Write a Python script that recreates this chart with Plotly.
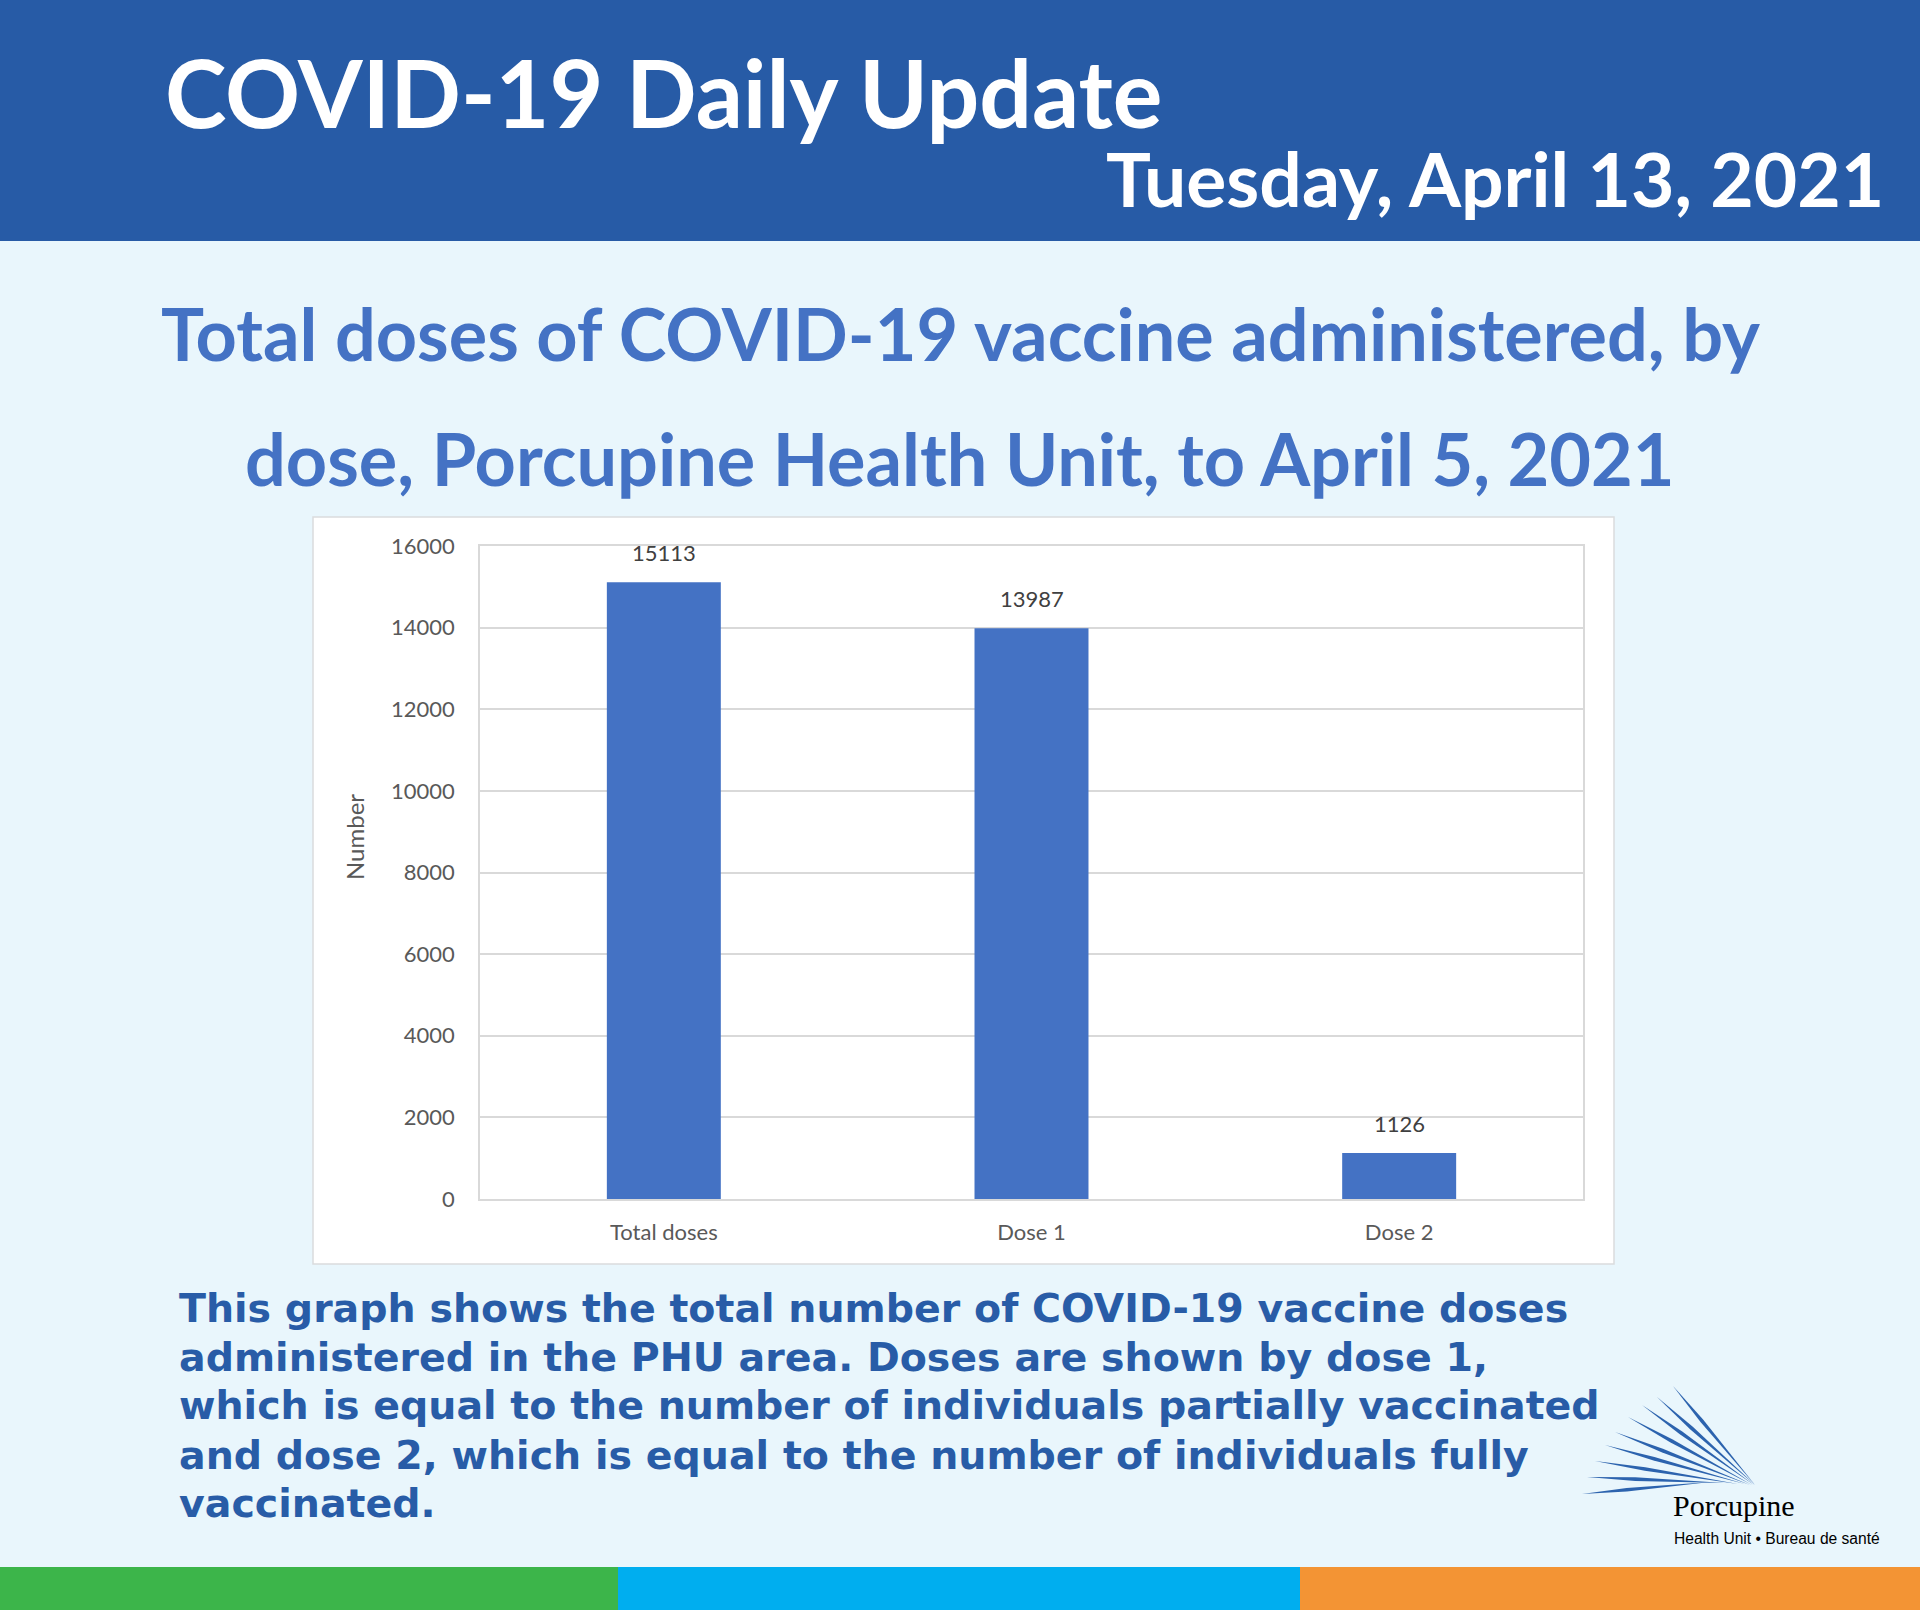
import plotly.graph_objects as go

# ---- data ----
categories = ["Total doses", "Dose 1", "Dose 2"]
doses = [15113, 13987, 1126]
y_ticks = [0, 2000, 4000, 6000, 8000, 10000, 12000, 14000, 16000]

header_title = "COVID-19 Daily Update"
header_date = "Tuesday, April 13, 2021"
subtitle_lines = ["Total doses of COVID-19 vaccine administered, by",
                  "dose, Porcupine Health Unit, to April 5, 2021"]
body_lines = ["This graph shows the total number of COVID-19 vaccine doses",
              "administered in the PHU area. Doses are shown by dose 1,",
              "which is equal to the number of individuals partially vaccinated",
              "and dose 2, which is equal to the number of individuals fully",
              "vaccinated."]

W, H = 1920, 1610
def px(x): return x / W
def py(y): return 1 - y / H

HEADER_BLUE = "#275BA6"
BG = "#E9F6FC"
BAR = "#4472C4"
SUB = "#4472C4"
BODY = "#285CA7"
GRID = "#D9D9D9"
HEAD_FONT = "Lato"
BODY_FONT = "DejaVu Sans"

fig = go.Figure()
fig.add_trace(go.Bar(x=categories, y=doses, marker=dict(color=BAR, line=dict(width=0)),
                     hoverinfo="skip"))

shapes = []
# header band
shapes.append(dict(type="rect", xref="paper", yref="paper", x0=0, x1=1, y0=py(241), y1=1,
                   fillcolor=HEADER_BLUE, line=dict(width=0), layer="below"))
# chart white box
shapes.append(dict(type="rect", xref="paper", yref="paper", x0=px(313), x1=px(1614),
                   y0=py(1264), y1=py(517), fillcolor="white",
                   line=dict(color="#DADCDD", width=1.5), layer="below"))
# bottom colour bars
for x0, x1, c in [(0, 618, "#3CB54A"), (618, 1300, "#00AEEF"), (1300, 1920, "#F39434")]:
    shapes.append(dict(type="rect", xref="paper", yref="paper", x0=px(x0), x1=px(x1),
                       y0=0, y1=py(1567), fillcolor=c, line=dict(width=0), layer="below"))

# logo fan (decorative)
fan_starts = [(1673, 1386), (1657, 1397), (1642, 1405), (1628, 1417), (1615, 1432),
              (1605, 1445), (1595, 1461), (1587, 1477), (1582, 1494)]
fan_ends = [(1755, 1485), (1755, 1485), (1754, 1485), (1752, 1485), (1750, 1485),
            (1745, 1484), (1738, 1484), (1725, 1483), (1710, 1482)]
for (x1, y1), (x2, y2) in zip(fan_starts, fan_ends):
    dx, dy = x2 - x1, y2 - y1
    L = (dx * dx + dy * dy) ** 0.5
    nx, ny = -dy / L * 1.8, dx / L * 1.8
    mx, my = x1 + dx * 0.35, y1 + dy * 0.35
    path = (f"M {px(x1)} {py(y1)} L {px(mx + nx)} {py(my + ny)} L {px(x2)} {py(y2)} "
            f"L {px(mx - nx)} {py(my - ny)} Z")
    shapes.append(dict(type="path", xref="paper", yref="paper", path=path,
                       fillcolor="#2C63AE", line=dict(width=0)))

annotations = []
annotations.append(dict(text=header_title, xref="paper", yref="paper", x=px(163), y=py(92),
                        xanchor="left", yanchor="middle", showarrow=False,
                        font=dict(family=HEAD_FONT, size=93, color="white", weight="bold")))
annotations.append(dict(text=header_date, xref="paper", yref="paper", x=px(1886), y=py(178),
                        xanchor="right", yanchor="middle", showarrow=False,
                        font=dict(family=HEAD_FONT, size=75, color="white", weight="bold")))
for txt, yc in zip(subtitle_lines, [333, 458]):
    annotations.append(dict(text=txt, xref="paper", yref="paper", x=0.5, y=py(yc),
                            xanchor="center", yanchor="middle", showarrow=False,
                            font=dict(family=HEAD_FONT, size=72, color=SUB, weight="bold")))
for txt, yc in zip(body_lines, [1308, 1357, 1405, 1455, 1503]):
    annotations.append(dict(text=txt, xref="paper", yref="paper", x=px(177), y=py(yc),
                            xanchor="left", yanchor="middle", showarrow=False,
                            font=dict(family=BODY_FONT, size=39.5, color=BODY, weight="bold")))
# y axis title
annotations.append(dict(text="Number", xref="paper", yref="paper", x=px(355), y=py(837),
                        xanchor="center", yanchor="middle", textangle=-90, showarrow=False,
                        font=dict(family="Lato", size=24, color="#595959")))
# data labels
for c, v in zip(categories, doses):
    annotations.append(dict(text=str(v), x=c, y=v, xref="x", yref="y",
                            xanchor="center", yanchor="bottom", yshift=14, showarrow=False,
                            font=dict(family="Lato", size=22, color="#404040")))
# logo text
annotations.append(dict(text="Porcupine", xref="paper", yref="paper", x=px(1671), y=py(1505),
                        xanchor="left", yanchor="middle", showarrow=False,
                        font=dict(family="Liberation Serif", size=30, color="black")))
annotations.append(dict(text="Health Unit \u2022 Bureau de santé", xref="paper", yref="paper",
                        x=px(1672), y=py(1538), xanchor="left", yanchor="middle", showarrow=False,
                        font=dict(family="Liberation Sans", size=15.6, color="black")))

fig.update_layout(
    width=W, height=H, margin=dict(l=0, r=0, t=0, b=0, pad=0, autoexpand=False),
    paper_bgcolor=BG, plot_bgcolor="white", showlegend=False,
    bargap=0.69,
    shapes=shapes, annotations=annotations,
    xaxis=dict(domain=[px(480), px(1583)], showline=True, mirror=True, linecolor=GRID,
               linewidth=1.5, ticks="", showgrid=False, ticklabelstandoff=13, automargin=False,
               tickfont=dict(family="Lato", size=22, color="#595959"), fixedrange=True),
    yaxis=dict(domain=[py(1199), py(546)], range=[0, 16000], tickvals=y_ticks,
               tickformat="d", showline=True, mirror=True, linecolor=GRID, linewidth=1.5,
               gridcolor=GRID, gridwidth=1.5, zeroline=False, ticks="", automargin=False,
               ticklabelstandoff=19,
               tickfont=dict(family="Lato", size=22, color="#595959"), fixedrange=True),
)

fig.write_html("out.html", config={"displayModeBar": False},
               post_script="document.body.style.margin='0';document.body.style.padding='0';"
                           "document.body.style.overflow='hidden';")
